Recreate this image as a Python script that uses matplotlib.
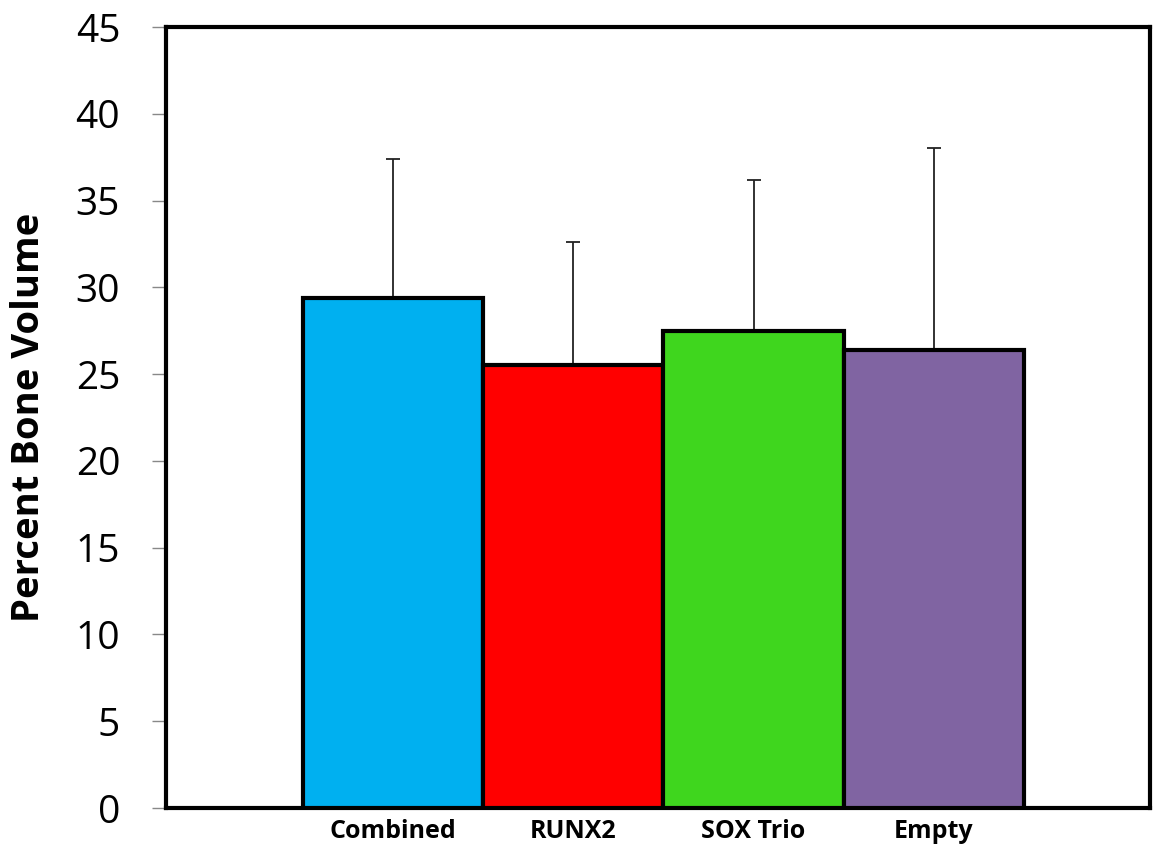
import matplotlib
matplotlib.use("Agg")
import matplotlib.pyplot as plt
import numpy as np

categories = ["Combined", "RUNX2", "SOX Trio", "Empty"]
values = [29.4, 25.5, 27.5, 26.4]
errors = [8.0, 7.1, 8.7, 11.6]
colors = ["#00B0F0", "#FF0000", "#3FD61E", "#8064A2"]
yticks = [0, 5, 10, 15, 20, 25, 30, 35, 40, 45]

plt.rcParams["font.family"] = ["Open Sans", "DejaVu Sans"]

fig = plt.figure(figsize=(11.6, 8.55), dpi=100)
ax = fig.add_axes([166 / 1160, 1 - 808 / 855, (1150 - 166) / 1160, (808 - 27) / 855])

x = np.arange(len(categories))
ax.bar(x, values, width=1.0, color=colors, edgecolor="black", linewidth=3, zorder=3)
ax.errorbar(x, values, yerr=[np.zeros(len(errors)), errors], fmt="none",
            ecolor="#222222", elinewidth=1.3, capsize=5, capthick=1.3, zorder=2)

ax.set_xlim(-1.26, 4.2)
ax.set_ylim(0, 45)
ax.set_yticks(yticks)
ax.set_yticklabels([str(t) for t in yticks], fontsize=28)
ax.set_xticks(x)
ax.set_xticklabels(categories, fontsize=18, fontweight="bold")
ax.tick_params(axis="y", direction="out", length=10, width=1, color="#888888", pad=23)
ax.tick_params(axis="x", length=0, pad=8)

for s in ax.spines.values():
    s.set_linewidth(3)
    s.set_color("black")

ax.set_ylabel("Percent Bone Volume", fontsize=27.5, fontweight="bold", labelpad=20)

fig.savefig("out.png", dpi=100)
